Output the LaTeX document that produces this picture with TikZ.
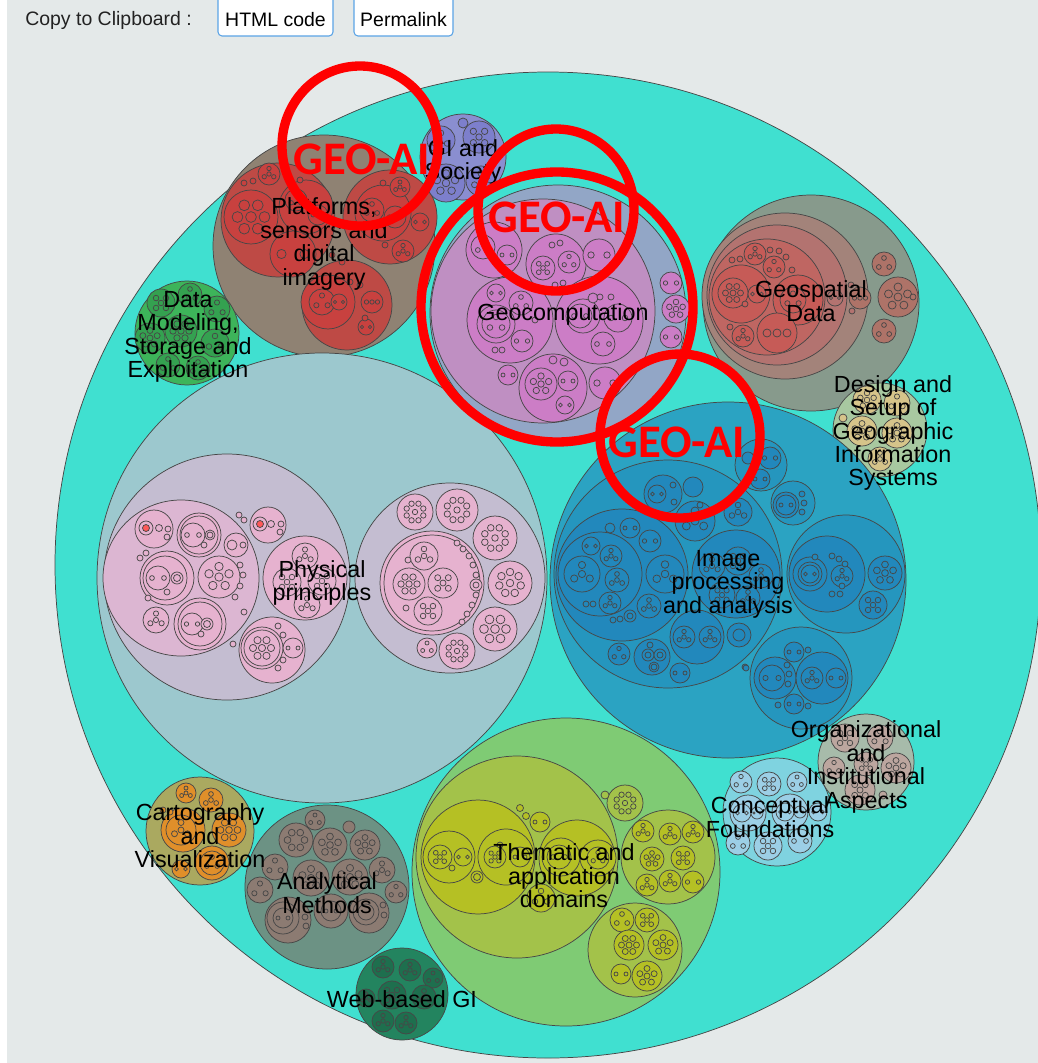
\documentclass[tikz,border=0pt]{standalone}
\usepackage{fontspec}
\setmainfont{Liberation Sans}
\newfontfamily\geofont{Carlito}
\definecolor{bgc}{HTML}{E4E9E9}
\definecolor{teal0}{HTML}{40E0D0}
\definecolor{plat}{HTML}{8F8273}
\definecolor{platred}{HTML}{BE4A45}
\definecolor{platsub}{HTML}{C8413F}
\definecolor{soc}{HTML}{8A8ED0}
\definecolor{socsub}{HTML}{7D7FCC}
\definecolor{geoout}{HTML}{92A6C6}
\definecolor{geoin}{HTML}{BF8FC2}
\definecolor{geosub}{HTML}{CC7DC6}
\definecolor{gsout}{HTML}{879A8C}
\definecolor{gsa}{HTML}{A3837A}
\definecolor{gsb}{HTML}{B37370}
\definecolor{gsc}{HTML}{BF6662}
\definecolor{gssub}{HTML}{C65B57}
\definecolor{gsside}{HTML}{AE7368}
\definecolor{dm}{HTML}{3DB45A}
\definecolor{dmsub}{HTML}{34A150}
\definecolor{des}{HTML}{A8C8A0}
\definecolor{dessub}{HTML}{D6C48A}
\definecolor{phys}{HTML}{9CC8CE}
\definecolor{physin}{HTML}{C4BDD1}
\definecolor{physpink}{HTML}{DCB6D2}
\definecolor{physpk}{HTML}{E6B2CF}
\definecolor{img}{HTML}{2BA3C2}
\definecolor{imgin}{HTML}{2596BE}
\definecolor{imgsub}{HTML}{2288BC}
\definecolor{org}{HTML}{A7BBAA}
\definecolor{orgsub}{HTML}{BCA69F}
\definecolor{con}{HTML}{7FD3E0}
\definecolor{consub}{HTML}{9CCFE6}
\definecolor{them}{HTML}{7FCB74}
\definecolor{themin}{HTML}{A3C24A}
\definecolor{themsub}{HTML}{B5C024}
\definecolor{cart}{HTML}{AAA960}
\definecolor{cartsub}{HTML}{E08F2A}
\definecolor{ana}{HTML}{6C9284}
\definecolor{anasub}{HTML}{8C7B72}
\definecolor{web}{HTML}{23845F}
\definecolor{websub}{HTML}{1E6F4E}
\definecolor{btnedge}{HTML}{5BA4E6}
\definecolor{hdrtext}{HTML}{222222}

\tikzset{
  bub/.style={draw=black!72, line width=0.55pt},
  lab/.style={font=\fontsize{17.5}{17.6}\selectfont, align=center, text=black, inner sep=0pt},
  ring/.style={draw=red, line width=7pt},
  geo/.style={font=\geofont\bfseries\fontsize{35}{35}\selectfont, text=red, inner sep=0pt},
  btn/.style={draw=btnedge, fill=white, line width=0.8pt, rounded corners=3pt},
  hdr/.style={font=\fontsize{14.6}{16}\selectfont, inner sep=0pt},
}
% a plain circle: x, y, radius, fill
\newcommand\bub[4]{\path[bub,fill=#4] (#1,#2) circle[radius=#3];}
% a circle holding a ring of n small circles
\newcommand\pod[5]{\bub{#1}{#2}{#3}{#4}%
  \foreach \k in {1,...,#5}{\path[bub,fill=#4]
    ({#1+0.5*#3*cos(90+360*\k/#5+180/#5)},{#2+0.5*#3*sin(90+360*\k/#5+180/#5)})
    circle[radius={0.2*#3*min(1,6/#5)}];}}
% the same with one more small circle in the middle
\newcommand\podc[5]{\pod{#1}{#2}{#3}{#4}{#5}%
  \path[bub,fill=#4] (#1,#2) circle[radius={0.2*#3*min(1,6/#5)}];}

\begin{document}
\begin{tikzpicture}[x=0.75pt,y=-0.75pt]
\useasboundingbox (0,0) rectangle (1038,1063);
\clip (0,0) rectangle (1038,1063);
\fill[white] (0,0) rectangle (7,1063);
\fill[bgc] (7,0) rectangle (1038,1063);

% header bar
\node[hdr, anchor=west, text=hdrtext] (cliplabel) at (25,20) {Copy to Clipboard :};
\draw[btn] (218,-6) rectangle (333,36);
\node[hdr] (htmlbtn) at (275.5,20) {HTML code};
\draw[btn] (354,-6) rectangle (453,36);
\node[hdr] (permabtn) at (403.5,20) {Permalink};

% root
\bub{548}{565}{493}{teal0}

% Platforms, sensors and digital imagery
\bub{324}{246}{111}{plat}
\bub{278}{220}{57}{platred}
\podc{251}{217}{27}{platsub}{6}
\bub{306}{207}{27}{platsub}
\pod{296}{200}{11}{platsub}{3}
\pod{318}{215}{10}{platsub}{2}
\pod{293}{254}{23}{platsub}{2}
\podc{269}{174}{11}{platsub}{3}
\bub{244}{183}{3}{platsub}\bub{253}{181}{3}{platsub}\bub{300}{180}{3}{platsub}
\bub{390}{217}{47}{platred}
\bub{383}{213}{28}{platsub}
\pod{372}{210}{12}{platsub}{3}
\pod{395}{217}{11}{platsub}{2}
\podc{403}{251}{11}{platsub}{3}
\podc{400}{187}{10}{platsub}{3}
\pod{420}{222}{9}{platsub}{2}
\bub{383}{183}{3}{platsub}\bub{385}{245}{3}{platsub}
\bub{347}{305}{45}{platred}
\bub{328}{302}{27}{platsub}
\pod{322}{302}{13}{platsub}{3}
\pod{339}{302}{8}{platsub}{2}
\podc{372}{302}{11}{platsub}{2}
\pod{366}{327}{8}{platsub}{2}
\bub{350}{282}{3}{platsub}\bub{360}{285}{3}{platsub}\bub{365}{318}{3}{platsub}
\bub{332}{255}{3}{platsub}\bub{342}{262}{3}{platsub}

% GI and Society
\bub{463}{157}{43}{soc}
\podc{446}{183}{19}{socsub}{5}
\pod{481}{181}{15}{socsub}{3}
\pod{441}{140}{14}{socsub}{3}
\podc{479}{137}{16}{socsub}{4}
\bub{463}{123}{5}{socsub}

% Geocomputation
\bub{558}{313}{128}{geoout}
\bub{543}{311}{112}{geoin}
\bub{494}{250}{28}{geosub}
\pod{483}{247}{12}{geosub}{3}
\pod{507}{255}{10}{geosub}{2}
\bub{556}{264}{30}{geosub}
\podc{543}{268}{12}{geosub}{4}
\pod{569}{262}{11}{geosub}{3}
\bub{552}{245}{3}{geosub}\bub{560}{243}{3}{geosub}\bub{555}{285}{3}{geosub}\bub{563}{283}{3}{geosub}
\pod{599}{255}{16}{geosub}{2}
\bub{510}{320}{43}{geosub}
\bub{496}{324}{19}{geosub}
\pod{496}{324}{14}{geosub}{3}
\pod{521}{303}{12}{geosub}{3}
\pod{522}{341}{11}{geosub}{2}
\pod{496}{293}{9}{geosub}{2}
\bub{495}{350}{3}{geosub}\bub{502}{350}{3}{geosub}\bub{535}{320}{3}{geosub}
\bub{599}{320}{44}{geosub}
\bub{583}{316}{17}{geosub}
\pod{580}{316}{12}{geosub}{2}
\pod{618}{318}{14}{geosub}{2}
\pod{603}{344}{12}{geosub}{2}
\bub{593}{298}{5}{geosub}\bub{600}{297}{3}{geosub}\bub{611}{297}{3}{geosub}
\bub{553}{388}{34}{geosub}
\podc{541}{384}{16}{geosub}{5}
\pod{568}{381}{10}{geosub}{2}
\pod{565}{405}{9}{geosub}{2}
\bub{553}{360}{4}{geosub}\bub{564}{362}{4}{geosub}
\pod{605}{383}{16}{geosub}{2}
\pod{508}{375}{10}{geosub}{2}
\pod{671}{283}{11}{geosub}{2}
\podc{676}{309}{14}{geosub}{5}
\pod{671}{337}{11}{geosub}{2}

% Geospatial Data
\bub{811}{303}{108}{gsout}
\bub{785}{296}{83}{gsa}
\bub{777}{295}{70}{gsb}
\bub{767}{297}{58}{gsc}
\bub{741}{294}{29}{gssub}
\podc{733}{293}{15}{gssub}{6}
\pod{757}{294}{9}{gssub}{2}
\bub{798}{300}{25}{gssub}
\pod{793}{300}{13}{gssub}{3}
\podc{777}{333}{20}{gssub}{2}
\podc{755}{254}{11}{gssub}{3}
\pod{774}{267}{11}{gssub}{3}
\podc{743}{336}{11}{gssub}{3}
\bub{732}{260}{3}{gssub}\bub{740}{259}{3}{gssub}\bub{770}{250}{3}{gssub}\bub{779}{251}{3}{gssub}
\bub{786}{257}{3}{gssub}\bub{792}{270}{3}{gssub}\bub{730}{327}{3}{gssub}\bub{745}{304}{3}{gssub}
\podc{860}{298}{11}{gsside}{2}
\pod{835}{298}{8}{gsb}{2}
\bub{851}{285}{3}{gsb}\bub{852}{311}{3}{gsb}
\pod{884}{264}{12}{gsside}{3}
\podc{898}{297}{20}{gsside}{5}
\pod{884}{331}{12}{gsside}{3}
\bub{913}{297}{3}{gsside}

% Data Modeling, Storage and Exploitation
\bub{187}{333}{52}{dm}
\podc{161}{303}{14}{dmsub}{4}
\pod{190}{295}{12}{dmsub}{3}
\pod{217}{309}{13}{dmsub}{3}
\podc{150}{338}{15}{dmsub}{5}
\podc{181}{331}{16}{dmsub}{6}
\pod{215}{343}{14}{dmsub}{3}
\pod{168}{365}{12}{dmsub}{3}
\pod{198}{368}{12}{dmsub}{3}

% Design and Setup of Geographic Information Systems
\bub{880}{430}{47}{des}
\podc{867}{400}{14}{dessub}{5}
\pod{897}{403}{13}{dessub}{3}
\podc{862}{431}{15}{dessub}{5}
\podc{897}{433}{15}{dessub}{5}
\podc{880}{459}{12}{dessub}{3}
\bub{843}{418}{4}{dessub}

% Physical principles
\bub{322}{578}{225}{phys}
\bub{227}{577}{123}{physin}
\bub{181}{578}{78}{physpink}
\bub{154}{529}{19}{physpk}
\bub{146}{528}{7}{physpk}\bub{146}{528}{3.5}{red!65}
\bub{159}{528}{3.5}{physpk}\bub{168}{529}{3}{physpk}\bub{167}{537}{3}{physpk}
\bub{199}{535}{22}{physpk}
\bub{199}{535}{19}{physpk}
\pod{193}{535}{12}{physpk}{2}
\bub{210}{535}{5}{physpk}\bub{210}{535}{3}{physpk}\bub{204}{545}{3}{physpk}
\bub{236}{545}{12}{physpk}\bub{232}{545}{5}{physpk}\bub{243}{545}{3}{physpk}
\bub{167}{578}{27}{physpk}
\bub{165}{578}{22}{physpk}
\pod{158}{578}{12}{physpk}{2}
\bub{177}{578}{6}{physpk}\bub{177}{578}{3.5}{physpk}\bub{167}{592}{3}{physpk}
\podc{219}{577}{21}{physpk}{5}
\bub{200}{624}{26}{physpk}
\bub{200}{624}{22}{physpk}
\pod{192}{624}{11}{physpk}{2}
\bub{207}{624}{6}{physpk}\bub{207}{624}{3.5}{physpk}\bub{201}{634}{3}{physpk}
\podc{156}{620}{13}{physpk}{3}
\bub{140}{558}{3}{physpk}\bub{146}{553}{3}{physpk}\bub{240}{565}{3}{physpk}\bub{243}{575}{3}{physpk}
\bub{240}{586}{3}{physpk}\bub{235}{597}{3}{physpk}\bub{148}{598}{3}{physpk}\bub{244}{612}{3}{physpk}
\bub{268}{525}{18}{physpk}
\bub{260}{524}{7}{physpk}\bub{260}{524}{3.5}{red!65}
\bub{271}{524}{3.5}{physpk}\bub{281}{524}{3}{physpk}\bub{280}{532}{3}{physpk}
\bub{239}{515}{3}{physpk}\bub{244}{520}{3}{physpk}
\bub{305}{578}{42}{physpk}
\podc{305}{556}{13}{physpk}{3}
\podc{287}{582}{14}{physpk}{4}
\podc{322}{581}{14}{physpk}{4}
\podc{307}{605}{13}{physpk}{3}
\bub{272}{650}{33}{physpk}
\bub{262}{648}{21}{physpk}
\podc{262}{648}{18}{physpk}{6}
\pod{293}{648}{10}{physpk}{2}
\bub{278}{626}{3}{physpk}\bub{283}{635}{3}{physpk}\bub{283}{660}{3}{physpk}\bub{278}{668}{3}{physpk}
\bub{233}{644}{3}{physpk}
\bub{450}{578}{95}{physin}
\bub{432}{583}{52}{physpk}
\bub{432}{583}{48}{physpk}
\podc{424}{556}{14}{physpk}{3}
\podc{409}{584}{16}{physpk}{6}
\podc{443}{583}{15}{physpk}{4}
\podc{428}{611}{14}{physpk}{4}
\bub{457}{543}{3}{physpk}\bub{463}{549}{3}{physpk}\bub{469}{556}{3}{physpk}\bub{473}{565}{3}{physpk}
\bub{476}{575}{3}{physpk}\bub{476}{595}{3}{physpk}\bub{472}{605}{3}{physpk}\bub{467}{614}{3}{physpk}
\bub{462}{622}{3}{physpk}\bub{408}{560}{3}{physpk}\bub{406}{608}{3}{physpk}
\bub{476}{585}{6}{physpk}\bub{476}{585}{3}{physpk}
\podc{415}{512}{18}{physpk}{8}
\podc{457}{510}{21}{physpk}{8}
\podc{495}{538}{22}{physpk}{8}
\podc{510}{583}{22}{physpk}{7}
\podc{495}{629}{22}{physpk}{6}
\podc{457}{651}{18}{physpk}{8}
\pod{427}{648}{10}{physpk}{3}

% Image processing and analysis
\bub{728}{580}{178}{img}
\bub{668}{574}{114}{imgin}
\bub{622}{575}{66}{imgsub}
\bub{600}{574}{42}{imgsub}
\podc{582}{574}{18}{imgsub}{3}
\pod{591}{546}{9}{imgsub}{2}
\podc{611}{556}{11}{imgsub}{3}
\podc{617}{580}{12}{imgsub}{3}
\podc{610}{603}{11}{imgsub}{3}
\podc{665}{574}{19}{imgsub}{3}
\bub{610}{528}{5}{imgsub}
\pod{630}{528}{10}{imgsub}{2}
\pod{650}{541}{11}{imgsub}{2}
\podc{649}{606}{12}{imgsub}{3}
\bub{630}{616}{6}{imgsub}\bub{630}{616}{3}{imgsub}
\bub{613}{620}{3}{imgsub}\bub{620}{619}{3}{imgsub}\bub{586}{604}{3}{imgsub}\bub{593}{604}{3}{imgsub}
\bub{736}{574}{44}{imgsub}
\podc{712}{566}{13}{imgsub}{3}
\podc{738}{561}{14}{imgsub}{4}
\podc{761}{576}{12}{imgsub}{3}
\podc{722}{595}{13}{imgsub}{4}
\podc{748}{598}{12}{imgsub}{3}
\bub{697}{637}{27}{imgsub}
\podc{684}{637}{11}{imgsub}{3}
\podc{710}{637}{11}{imgsub}{3}
\podc{695}{521}{20}{imgsub}{3}
\bub{663}{494}{19}{imgsub}
\pod{657}{494}{9}{imgsub}{2}
\bub{673}{485}{3}{imgsub}\bub{674}{502}{3}{imgsub}
\podc{738}{512}{14}{imgsub}{3}
\bub{652}{657}{18}{imgsub}
\bub{648}{655}{6}{imgsub}\bub{648}{655}{3}{imgsub}\bub{660}{655}{6}{imgsub}\bub{660}{655}{3}{imgsub}
\bub{654}{667}{5}{imgsub}\bub{654}{667}{3}{imgsub}\bub{650}{645}{3}{imgsub}
\pod{619}{654}{11}{imgsub}{3}
\pod{680}{673}{10}{imgsub}{2}
\bub{739}{635}{12}{imgsub}\bub{739}{635}{6}{imgsub}
\bub{693}{487}{10}{imgsub}
\bub{745}{667}{3}{imgsub}\bub{700}{505}{3}{imgsub}
\bub{761}{465}{26}{imgin}
\pod{770}{458}{11}{imgsub}{2}
\pod{760}{479}{10}{imgsub}{2}
\bub{748}{458}{6}{imgsub}
\bub{793}{503}{22}{imgin}
\bub{786}{505}{13}{imgsub}
\pod{786}{505}{10}{imgsub}{2}
\bub{802}{494}{3}{imgsub}\bub{804}{503}{3}{imgsub}\bub{802}{512}{3}{imgsub}
\bub{846}{574}{59}{imgin}
\bub{827}{574}{38}{imgsub}
\bub{810}{574}{17}{imgsub}
\bub{810}{574}{12}{imgsub}
\pod{810}{574}{9}{imgsub}{2}
\podc{842}{576}{11}{imgsub}{3}
\bub{832}{556}{3}{imgsub}\bub{839}{559}{3}{imgsub}\bub{845}{564}{3}{imgsub}\bub{832}{594}{3}{imgsub}
\bub{840}{594}{3}{imgsub}\bub{815}{557}{3}{imgsub}
\podc{885}{573}{17}{imgsub}{5}
\podc{873}{605}{14}{imgsub}{4}
\bub{842}{586}{3}{imgsub}
\bub{801}{678}{51}{imgin}
\bub{775}{678}{21}{imgsub}
\pod{772}{678}{13}{imgsub}{2}
\bub{787}{665}{3}{imgsub}\bub{789}{674}{3}{imgsub}\bub{788}{684}{3}{imgsub}
\bub{822}{678}{26}{imgsub}
\podc{812}{678}{11}{imgsub}{3}
\pod{836}{678}{10}{imgsub}{2}
\pod{794}{652}{10}{imgsub}{2}
\pod{794}{704}{10}{imgsub}{2}
\bub{808}{650}{3}{imgsub}\bub{778}{705}{3}{imgsub}\bub{808}{706}{3}{imgsub}\bub{746}{668}{3}{imgsub}

% Organizational and Institutional Aspects
\bub{866}{762}{48}{org}
\podc{845}{738}{14}{orgsub}{4}
\pod{880}{738}{13}{orgsub}{3}
\podc{896}{768}{15}{orgsub}{5}
\podc{860}{790}{15}{orgsub}{4}
\pod{834}{768}{11}{orgsub}{3}
\podc{866}{764}{12}{orgsub}{4}
\bub{883}{795}{4}{orgsub}

% Conceptual Foundations
\bub{777}{812}{54}{con}
\pod{741}{782}{11}{consub}{3}
\podc{769}{784}{12}{consub}{4}
\pod{797}{782}{10}{consub}{3}
\bub{748}{813}{18}{consub}
\pod{742}{813}{9}{consub}{2}
\pod{757}{813}{6}{consub}{2}
\bub{790}{812}{18}{consub}
\pod{785}{812}{9}{consub}{2}
\pod{800}{812}{6}{consub}{2}
\pod{818}{812}{9}{consub}{2}
\pod{738}{843}{12}{consub}{3}
\podc{768}{846}{14}{consub}{4}
\pod{800}{841}{12}{consub}{2}

% Thematic and application domains
\bub{566}{872}{154}{them}
\bub{517}{857}{101}{themin}
\bub{478}{857}{57}{themsub}
\bub{449}{857}{26}{themsub}
\podc{440}{857}{12}{themsub}{4}
\pod{463}{857}{9}{themsub}{2}
\bub{506}{857}{28}{themsub}
\podc{495}{857}{11}{themsub}{4}
\pod{520}{857}{10}{themsub}{2}
\bub{452}{868}{3}{themsub}
\bub{577}{858}{38}{themsub}
\bub{561}{857}{19}{themsub}
\pod{559}{857}{12}{themsub}{2}
\bub{598}{858}{18}{themsub}
\pod{598}{858}{11}{themsub}{3}
\pod{540}{822}{10}{themsub}{2}
\pod{541}{898}{14}{themsub}{3}
\bub{477}{877}{6}{themsub}\bub{477}{877}{3.5}{themsub}
\bub{500}{845}{3}{themsub}\bub{520}{808}{3.5}{themsub}\bub{526}{816}{3.5}{themsub}
\podc{625}{803}{18}{themin}{8}
\bub{605}{795}{4}{themin}
\bub{668}{857}{47}{themin}
\podc{643}{831}{11}{themsub}{3}
\podc{670}{834}{11}{themsub}{3}
\podc{693}{832}{11}{themsub}{3}
\podc{652}{859}{12}{themsub}{5}
\podc{683}{858}{12}{themsub}{4}
\podc{647}{885}{11}{themsub}{3}
\podc{670}{881}{11}{themsub}{3}
\pod{693}{882}{11}{themsub}{2}
\bub{635}{950}{47}{themin}
\pod{622}{920}{12}{themsub}{3}
\podc{647}{920}{12}{themsub}{4}
\podc{629}{945}{15}{themsub}{6}
\podc{663}{945}{15}{themsub}{5}
\pod{621}{974}{10}{themsub}{2}
\podc{647}{976}{15}{themsub}{5}

% Cartography and Visualization
\bub{200}{831}{54}{cart}
\bub{183}{830}{22}{cartsub}
\podc{181}{830}{15}{cartsub}{3}
\podc{211}{800}{12}{cartsub}{3}
\podc{186}{793}{10}{cartsub}{3}
\podc{229}{830}{17}{cartsub}{6}
\bub{212}{863}{17}{cartsub}
\pod{212}{863}{12}{cartsub}{3}
\pod{181}{869}{9}{cartsub}{2}
\bub{163}{810}{3}{cartsub}\bub{170}{812}{3}{cartsub}

% Analytical Methods
\bub{327}{887}{82}{ana}
\pod{296}{840}{17}{anasub}{6}
\podc{330}{845}{17}{anasub}{5}
\podc{365}{845}{15}{anasub}{5}
\pod{315}{820}{10}{anasub}{3}
\bub{349}{827}{6}{anasub}
\pod{275}{867}{13}{anasub}{3}
\podc{311}{878}{18}{anasub}{5}
\podc{350}{877}{18}{anasub}{5}
\podc{382}{870}{13}{anasub}{3}
\pod{260}{890}{13}{anasub}{3}
\bub{288}{920}{23}{anasub}
\bub{283}{918}{16}{anasub}
\pod{283}{918}{10}{anasub}{2}
\bub{305}{917}{3}{anasub}\bub{306}{926}{3}{anasub}
\bub{331}{911}{17}{anasub}
\pod{331}{911}{10}{anasub}{2}
\bub{369}{913}{20}{anasub}
\bub{366}{912}{13}{anasub}\bub{366}{912}{8}{anasub}
\bub{383}{905}{3}{anasub}\bub{384}{915}{3}{anasub}
\pod{396}{892}{11}{anasub}{3}

% Web-based GI
\bub{402}{994}{46}{web}
\podc{383}{967}{11}{websub}{3}
\podc{410}{970}{11}{websub}{3}
\pod{433}{978}{10}{websub}{3}
\podc{392}{995}{14}{websub}{4}
\podc{424}{997}{12}{websub}{3}
\podc{383}{1021}{11}{websub}{3}
\podc{406}{1023}{11}{websub}{3}
\podc{366}{998}{9}{websub}{3}

% labels
\node[lab] (platlab) at (324,244) {Platforms,\\sensors and\\digital\\imagery};
\node[lab] (soclab) at (463,162) {GI and\\Society};
\node[lab] (geocomplab) at (563,314) {Geocomputation};
\node[lab] (gslab) at (811,301) {Geospatial\\Data};
\node[lab] (dmlab) at (188,337) {Data\\Modeling,\\Storage and\\Exploitation};
\node[lab] (deslab) at (893,433) {Design and\\Setup of\\Geographic\\Information\\Systems};
\node[lab] (physlab) at (322,583) {Physical\\principles};
\node[lab] (imglab) at (728,584) {Image\\processing\\and analysis};
\node[lab] (orglab) at (866,767) {Organizational\\and\\Institutional\\Aspects};
\node[lab] (conlab) at (770,817) {Conceptual\\Foundations};
\node[lab] (themlab) at (564,876) {Thematic and\\application\\domains};
\node[lab] (cartlab) at (200,836) {Cartography\\and\\Visualization};
\node[lab] (analab) at (327,893) {Analytical\\Methods};
\node[lab] (weblab) at (402,999) {Web-based GI};

% GEO-AI highlights
\draw[ring] (360,146) ellipse[x radius=78, y radius=80];
\draw[ring] (556,210) ellipse[x radius=78, y radius=81];
\draw[ring] (557,307) ellipse[x radius=136, y radius=135];
\draw[ring] (680,436) ellipse[x radius=80, y radius=82];
\node[geo] (geoai1) at (362,159) {GEO-AI};
\node[geo] (geoai2) at (557,217) {GEO-AI};
\node[geo] (geoai3) at (677,442) {GEO-AI};
\end{tikzpicture}
\end{document}
